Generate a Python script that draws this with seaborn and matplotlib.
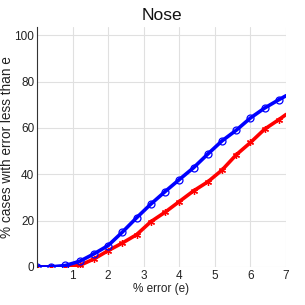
import matplotlib
matplotlib.use("Agg")
import matplotlib.pyplot as plt
import seaborn as sns
import pandas as pd

x_vals = [0, 0.4, 0.8, 1.2, 1.6, 2.0, 2.4, 2.8, 3.2, 3.6, 4.0, 4.4, 4.8, 5.2, 5.6, 6.0, 6.4, 6.8, 7.0]
blue_vals = [0, 0, 0.6, 2.4, 5.6, 9.2, 15.0, 21.2, 27.1, 32.5, 37.7, 42.8, 48.7, 54.4, 59.0, 64.3, 68.6, 72.2, 73.9]
red_vals = [0, 0, 0, 0.6, 3.4, 7.0, 10.3, 13.9, 19.5, 23.6, 28.2, 32.8, 36.7, 41.8, 48.4, 53.7, 59.5, 63.6, 65.8]
x_ticks = [1, 2, 3, 4, 5, 6, 7]
y_ticks = [0, 20, 40, 60, 80, 100]

sns.set_style("white")
plt.rcParams['font.family'] = ['Liberation Sans', 'DejaVu Sans']

fig = plt.figure(figsize=(3.05, 3.05), dpi=100)
ax = fig.add_axes([0.121, 0.125, 0.817, 0.786])

df = pd.DataFrame({"x": x_vals, "blue": blue_vals, "red": red_vals})
mk = list(range(len(x_vals) - 1))
sns.lineplot(data=df, x="x", y="red", ax=ax, color="#ff0000", linewidth=2.6,
             marker=(6, 2, 0), markersize=5, markeredgewidth=0.9,
             markeredgecolor="#ff0000", markevery=mk)
sns.lineplot(data=df, x="x", y="blue", ax=ax, color="#0000ff", linewidth=2.6,
             marker="o", markersize=5, markerfacecolor="none",
             markeredgecolor="#0000ff", markeredgewidth=0.9, markevery=mk)

ax.set_xlim(0, 7)
ax.set_ylim(0, 103.5)
ax.set_xticks(x_ticks)
ax.set_yticks(y_ticks)
ax.grid(True, color="#e0e0e0", linewidth=0.8)
ax.set_axisbelow(True)
for s in ["top", "right", "bottom"]:
    ax.spines[s].set_visible(False)
ax.spines["left"].set_color("#333333")
ax.spines["left"].set_linewidth(0.8)
ax.tick_params(axis="both", labelsize=8.5, colors="#222222", length=0, pad=2)
ax.set_xlabel("% error (e)", fontsize=8.5, color="#222222", labelpad=1)
ax.set_ylabel("% cases with error less than e", fontsize=9.8, color="#222222", labelpad=0)
ax.set_title("Nose", fontsize=12.5, color="#111111", pad=5)

fig.savefig("out.png", dpi=100)
